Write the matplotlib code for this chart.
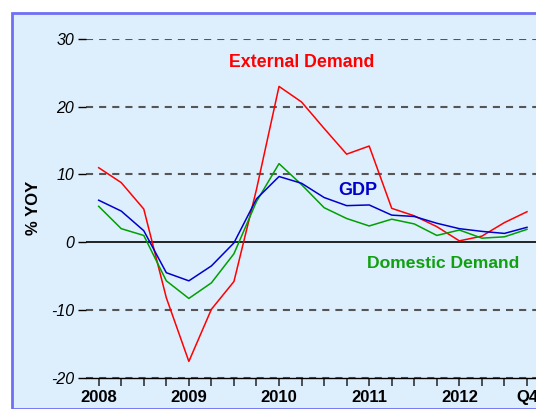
import matplotlib
matplotlib.use("Agg")
import matplotlib.pyplot as plt
from matplotlib.patches import Rectangle

plt.rcParams['font.family'] = ['Liberation Sans', 'DejaVu Sans']

# quarterly data, 2008Q1 .. 2012Q4 (% YOY)
quarters = list(range(20))
external = [11.0, 8.8, 4.9, -8.2, -17.6, -9.9, -5.8, 7.8, 23.0, 20.7,
            16.8, 13.0, 14.2, 5.0, 3.9, 2.3, 0.2, 0.9, 2.9, 4.5]
gdp = [6.2, 4.6, 1.7, -4.5, -5.7, -3.5, -0.1, 6.4, 9.7, 8.7,
       6.6, 5.4, 5.5, 4.0, 3.8, 2.8, 2.0, 1.6, 1.3, 2.2]
domestic = [5.3, 2.0, 1.0, -5.7, -8.3, -6.0, -1.7, 6.0, 11.6, 8.5,
            5.1, 3.5, 2.4, 3.4, 2.7, 1.0, 1.8, 0.6, 0.8, 1.9]
xlabels = {0: '2008', 4: '2009', 8: '2010', 12: '2011', 16: '2012', 19: 'Q4'}
yticks = [-20, -10, 0, 10, 20, 30]

W, H = 536, 409
fig = plt.figure(figsize=(W / 100, H / 100), dpi=100)
fig.patch.set_facecolor('white')

# framed light-blue panel behind everything
panel = Rectangle((12 / W, 0), 1, 1 - 13 / H, transform=fig.transFigure,
                  facecolor='#DDEEFD', edgecolor='#6F6FF5', lw=2, zorder=-10)
fig.add_artist(panel)

ax = fig.add_axes([86 / W, 1 - 377.7 / H, 1 - 86 / W, (377.7 - 39) / H])
ax.set_facecolor('none')
ax.set_zorder(5)

ax.set_xlim(-0.563, 19.40)
ax.set_ylim(-20, 30)

for y in yticks:
    if y == 0:
        ax.axhline(y, color='black', lw=1.2, zorder=1)
    else:
        ax.axhline(y, color='#555555', lw=1.5, dashes=(3.4, 2.9), zorder=1)

ax.plot(quarters, external, color='#FF0000', lw=1.1, zorder=3)
ax.plot(quarters, domestic, color='#00A000', lw=1.1, zorder=3)
ax.plot(quarters, gdp, color='#0000CC', lw=1.1, zorder=3)

for s in ['top', 'right', 'left']:
    ax.spines[s].set_visible(False)
ax.spines['bottom'].set_color('black')
ax.spines['bottom'].set_linewidth(1.0)

ax.set_xticks(quarters)
ax.set_xticklabels([xlabels.get(q, '') for q in quarters], fontsize=12, fontweight='bold')
ax.tick_params(axis='x', direction='out', length=5.5, width=1.2, color='#333333', pad=3)

ax.set_yticks(yticks)
ax.set_yticklabels([str(y) for y in yticks], fontsize=11.5, fontstyle='italic')
ax.tick_params(axis='y', direction='out', length=5.5, width=1, color='black', pad=3)

ax.set_ylabel('% YOY', fontsize=12, fontweight='bold', labelpad=7)

ax.text(9.0, 26.5, 'External Demand', color='#FF0000', fontsize=12.8, fontweight='bold',
        ha='center', va='center')
ax.text(11.5, 7.6, 'GDP', color='#0000CC', fontsize=13, fontweight='bold',
        ha='center', va='center')
ax.text(15.3, -3.1, 'Domestic Demand', color='#10A010', fontsize=12.6, fontweight='bold',
        ha='center', va='center')

fig.savefig('out.png', dpi=100)
